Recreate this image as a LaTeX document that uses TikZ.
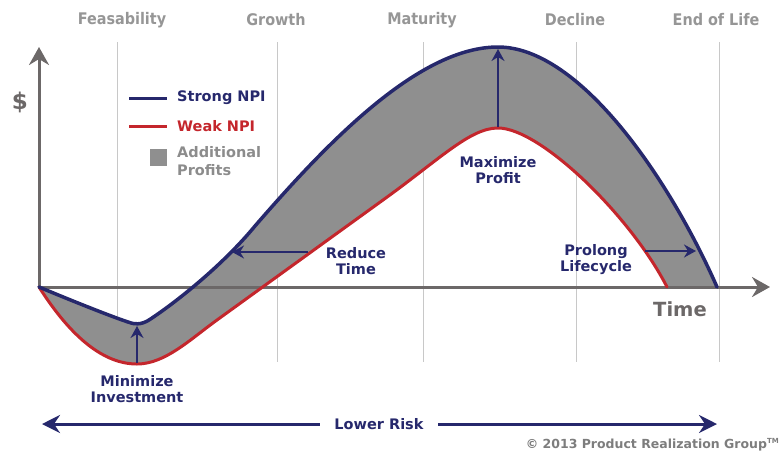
\documentclass[tikz,border=0pt]{standalone}
\usepackage{fontspec}
\setmainfont{DejaVu Sans}
\newfontfamily\condfont{DejaVu Sans Condensed}
\usetikzlibrary{arrows.meta}
\definecolor{navy}{RGB}{38,40,108}
\definecolor{npired}{RGB}{196,38,44}
\definecolor{fillgrey}{RGB}{143,143,143}
\definecolor{axisgrey}{RGB}{108,104,104}
\definecolor{gridgrey}{RGB}{200,200,200}
\definecolor{phasegrey}{RGB}{150,150,150}
\definecolor{legendgrey}{RGB}{140,140,140}
\definecolor{copygrey}{RGB}{125,125,125}
\tikzset{
  lbl/.style={font=\bfseries\fontsize{14.5}{16}\selectfont, text=navy, align=center, inner sep=0pt},
  phase/.style={font=\condfont\bfseries\fontsize{16}{18}\selectfont, text=phasegrey, inner sep=0pt},
  legtext/.style={font=\bfseries\fontsize{14.5}{18}\selectfont, inner sep=0pt, anchor=west, align=left},
  gridln/.style={draw=gridgrey, line width=1pt},
  axisln/.style={draw=axisgrey, line width=3pt, line join=miter, {Stealth[length=18pt,width=20pt,inset=6pt]}-{Stealth[length=18pt,width=20pt,inset=6pt]}},
  navyarrow/.style={draw=navy, line width=2.5pt, -{Stealth[length=12pt,width=13pt,inset=4pt]}},
  riskarrow/.style={draw=navy, line width=3pt, -{Stealth[length=18pt,width=18pt,inset=6pt]}},
  strongln/.style={draw=navy, line width=3.5pt, line cap=round, line join=round},
  weakln/.style={draw=npired, line width=3pt, line cap=round, line join=round},
}
\begin{document}
\begin{tikzpicture}[x=1pt,y=-1pt]
\useasboundingbox (0,0) rectangle (783,456);
% phase labels
\node[phase] (ph1) at (122,20) {Feasability};
\node[phase] (ph2) at (276,20) {Growth};
\node[phase] (ph3) at (422,20) {Maturity};
\node[phase] (ph4) at (575,20) {Decline};
\node[phase] (ph5) at (716,20) {End of Life};
% grid lines
\foreach \gx/\gn in {117/1,277/2,423/3,576/4,719/5}{
  \coordinate (gt\gn) at (\gx,42);
  \coordinate (gb\gn) at (\gx,362);
  \draw[gridln] (gt\gn) -- (gb\gn);
}
% fill between curves
\fill[fillgrey] (39,287) .. controls (70,300) and (110,316) .. (128,322)
  .. controls (134,324.5) and (141,325) .. (149,320)
  .. controls (175,303) and (222,266) .. (255,226)
  .. controls (330,139.3) and (420,47) .. (498,47)
  .. controls (580,47) and (670,180) .. (717,287)
  -- (667,287)
  .. controls (630,215) and (540,128) .. (498,128)
  .. controls (470,128) and (440,159) .. (383,200)
  -- (217,320)
  .. controls (190,339.5) and (165,364) .. (137,364)
  .. controls (104.3,364) and (71.7,338.3) .. (39,287) -- cycle;
% axes
\coordinate (O) at (39,287);
\coordinate (Ytip) at (39,47);
\coordinate (Xtip) at (770,287);
\draw[axisln] (Ytip) -- (O) -- (Xtip);
% weak NPI curve
\draw[weakln] (39,287) .. controls (71.7,338.3) and (104.3,364) .. (137,364)
  .. controls (165,364) and (190,339.5) .. (217,320)
  -- (383,200)
  .. controls (440,159) and (470,128) .. (498,128)
  .. controls (540,128) and (630,215) .. (667,287);
% strong NPI curve
\draw[strongln] (39,287) .. controls (70,300) and (110,316) .. (128,322)
  .. controls (134,324.5) and (141,325) .. (149,320)
  .. controls (175,303) and (222,266) .. (255,226)
  .. controls (330,139.3) and (420,47) .. (498,47)
  .. controls (580,47) and (670,180) .. (717,287);
% axis labels
\node[font=\bfseries\fontsize{23}{25}\selectfont, text=axisgrey, inner sep=0pt] (dollar) at (20,102) {\$};
\node[font=\bfseries\fontsize{19.5}{22}\selectfont, text=axisgrey, inner sep=0pt] (time) at (680,309) {Time};
% legend
\coordinate (l1a) at (129,98); \coordinate (l1b) at (167,98);
\draw[navy, line width=3pt] (l1a) -- (l1b);
\node[legtext, text=navy] (strong) at (177,98) {Strong NPI};
\coordinate (l2a) at (129,126); \coordinate (l2b) at (167,126);
\draw[npired, line width=3pt] (l2a) -- (l2b);
\node[legtext, text=npired] (weak) at (177,126) {Weak NPI};
\node[fill=fillgrey, minimum size=17pt, inner sep=0pt] (sq) at (158.5,157.5) {};
\node[legtext, text=legendgrey, anchor=north west] (addl) at (177,146) {Additional\\Profits};
% improvement arrows
\coordinate (minR) at (137,363); \coordinate (minB) at (137,326);
\draw[navyarrow] (minR) -- (minB);
\node[lbl] (minimize) at (137,389) {Minimize\\Investment};
\coordinate (maxR) at (498,127); \coordinate (maxB) at (498,49);
\draw[navyarrow] (maxR) -- (maxB);
\node[lbl] (maximize) at (498,170) {Maximize\\Profit};
\coordinate (redR) at (308,252); \coordinate (redB) at (232,252);
\draw[navyarrow] (redR) -- (redB);
\node[lbl] (reduce) at (356,261) {Reduce\\Time};
\coordinate (proR) at (645,251); \coordinate (proB) at (696,251);
\draw[navyarrow] (proR) -- (proB);
\node[lbl] (prolong) at (596,260) {Prolong\\Lifecycle};
% lower risk
\node[lbl, inner xsep=14.5pt] (risk) at (379,424) {Lower Risk};
\coordinate (riskL) at (42,424);
\coordinate (riskR) at (717,424);
\draw[riskarrow] (risk.west) -- (riskL);
\draw[riskarrow] (risk.east) -- (riskR);
% copyright
\node[font=\bfseries\fontsize{12.5}{14}\selectfont, text=copygrey, inner sep=0pt, anchor=east] (copy) at (779,445) {\textcopyright{} 2013 Product Realization Group\raisebox{0.8ex}{\fontsize{7}{8}\selectfont TM}};
\end{tikzpicture}
\end{document}
